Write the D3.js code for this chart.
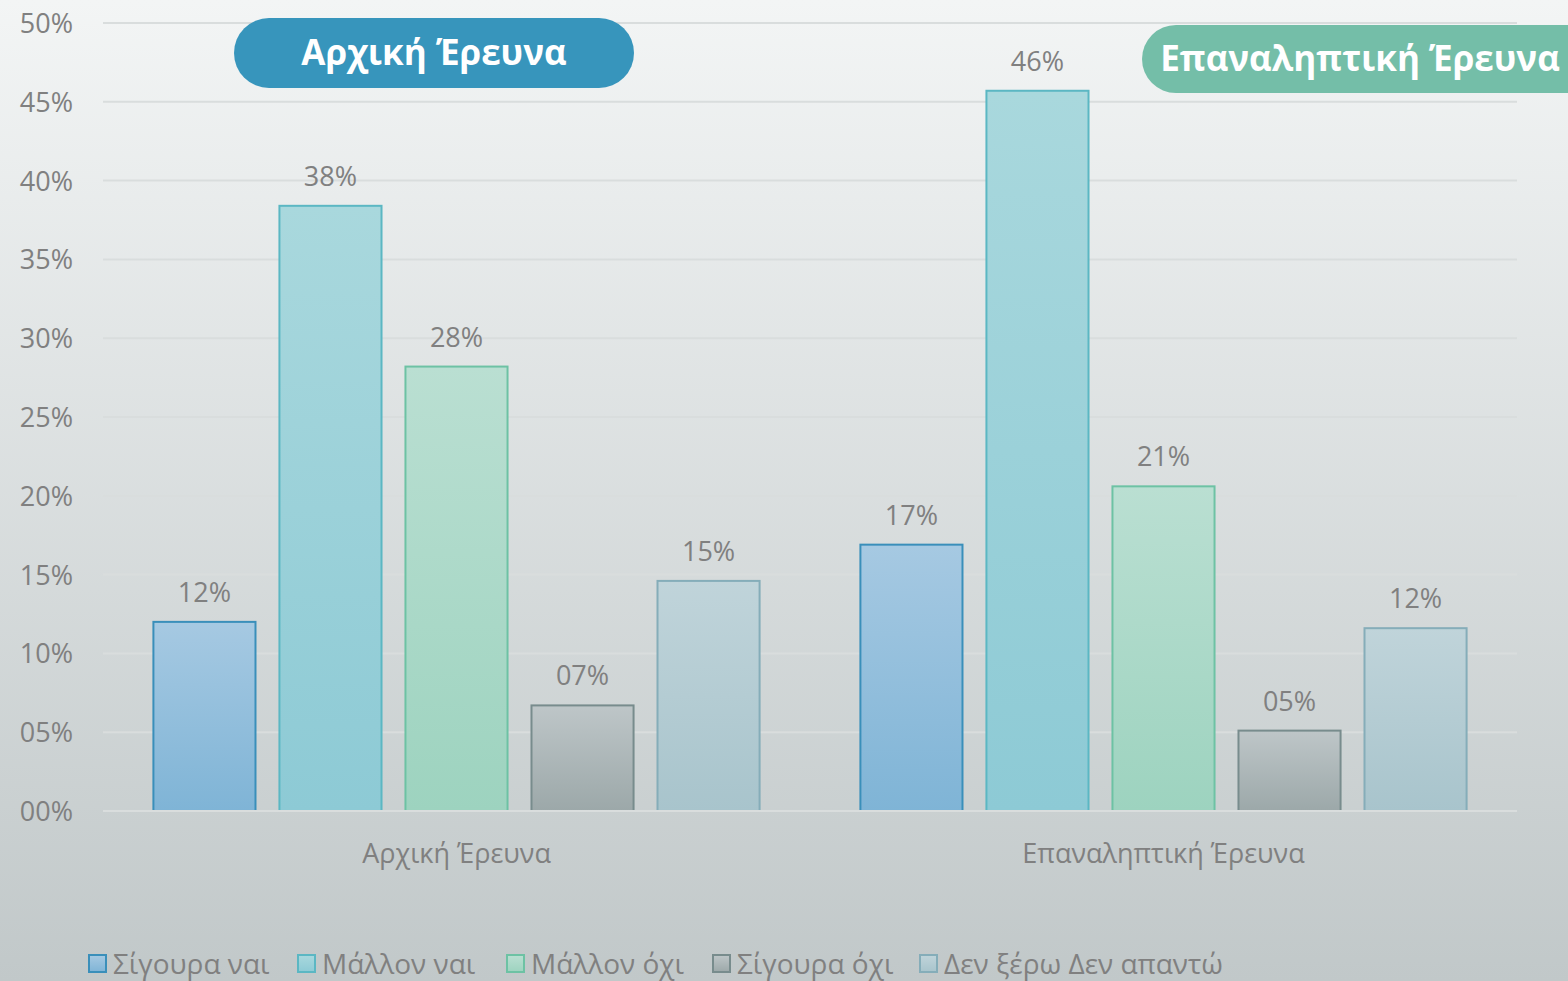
<!DOCTYPE html>
<html><head><meta charset="utf-8">
<script src="https://cdn.jsdelivr.net/npm/d3@7"></script>
<style>html,body{margin:0;padding:0;overflow:hidden}svg{display:block}</style>
</head><body>
<svg id="c" width="1568" height="981"></svg>
<script>
const categories = ["Αρχική Έρευνα", "Επαναληπτική Έρευνα"];
const seriesNames = ["Σίγουρα ναι", "Μάλλον ναι", "Μάλλον όχι", "Σίγουρα όχι", "Δεν ξέρω Δεν απαντώ"];
const valuesArxiki = [0.12, 0.384, 0.282, 0.067, 0.146];
const valuesEpanal = [0.169, 0.457, 0.206, 0.051, 0.116];
const yTicks = [0, 0.05, 0.10, 0.15, 0.20, 0.25, 0.30, 0.35, 0.40, 0.45, 0.50];
const badgeLabels = ["Αρχική Έρευνα", "Επαναληπτική Έρευνα"];

const fillTop = ["#a6c9e2", "#a9d8dd", "#badfd2", "#bec6c8", "#c0d4da"];
const fillBot = ["#7fb4d6", "#8dcad5", "#9dd3bf", "#9ca8a9", "#a8c4cc"];
const strokes = ["#3a8fba", "#5bb7c3", "#6dc2a4", "#788c8d", "#85adb9"];

const svg = d3.select("#c");
const W = 1568, H = 981;
const defs = svg.append("defs");
const bg = defs.append("linearGradient").attr("id","bg").attr("x1",0).attr("y1",0).attr("x2",0).attr("y2",1);
bg.append("stop").attr("offset","0%").attr("stop-color","#f3f5f5");
bg.append("stop").attr("offset","100%").attr("stop-color","#c1c8c9");
svg.append("rect").attr("width",W).attr("height",H).attr("fill","url(#bg)");
fillTop.forEach((c,i)=>{
  const g = defs.append("linearGradient").attr("id","g"+i).attr("x1",0).attr("y1",0).attr("x2",0).attr("y2",1);
  g.append("stop").attr("offset","0%").attr("stop-color",c);
  g.append("stop").attr("offset","100%").attr("stop-color",fillBot[i]);
});

const font = "'Open Sans', 'Noto Sans', sans-serif";
const pLeft = 103, pRight = 1517, pTop = 23, pBottom = 811;
const y = d3.scaleLinear().domain([0, 0.5]).range([pBottom, pTop]);
const x0 = d3.scaleBand().domain(categories).range([pLeft, pRight]).padding(0);
const x1 = d3.scaleBand().domain(seriesNames).range([0, x0.bandwidth()]).paddingInner(0.19).paddingOuter(0.4);

// gridlines
svg.append("g").selectAll("line").data(yTicks).join("line")
  .attr("x1", pLeft).attr("x2", pRight)
  .attr("y1", d=>y(d)).attr("y2", d=>y(d))
  .attr("stroke", "#d9dddd").attr("stroke-width", 2);

// y axis labels
const fmt = d => String(Math.round(d*100)).padStart(2,"0") + "%";
const yAxis = d3.axisLeft(y).tickValues(yTicks).tickFormat(fmt).tickSize(0).tickPadding(0);
const ya = svg.append("g").attr("transform", `translate(73,0)`).call(yAxis);
ya.select(".domain").remove();
ya.selectAll("text").attr("font-family", font).attr("font-size", 27).attr("fill", "#808080").attr("dy","0.35em");

const data = [valuesArxiki, valuesEpanal];
const groups = svg.append("g").selectAll("g").data(categories).join("g")
  .attr("transform", d=>`translate(${x0(d)},0)`);
groups.each(function(cat, gi){
  const g = d3.select(this);
  const vals = data[gi].map((v,i)=>({name: seriesNames[i], v, i}));
  g.selectAll("rect").data(vals).join("rect")
    .attr("x", d=>x1(d.name)).attr("width", x1.bandwidth())
    .attr("y", d=>y(d.v)).attr("height", d=>y(0)-y(d.v))
    .attr("fill", d=>`url(#g${d.i})`).attr("stroke", d=>strokes[d.i]).attr("stroke-width", 2);
  g.selectAll("text").data(vals).join("text")
    .attr("x", d=>x1(d.name)+x1.bandwidth()/2).attr("y", d=>y(d.v)-20)
    .attr("text-anchor","middle").attr("font-family", font).attr("font-size", 27).attr("fill","#808080")
    .text(d=>fmt(d.v));
});

// baseline
svg.append("line").attr("x1",pLeft).attr("x2",pRight).attr("y1",y(0)).attr("y2",y(0)).attr("stroke","#d9dddd").attr("stroke-width",2);

// category axis
const xa = svg.append("g").attr("transform",`translate(0,${pBottom})`).call(d3.axisBottom(x0).tickSize(0).tickPadding(0));
xa.select(".domain").remove();
xa.selectAll("text").attr("font-family", font).attr("font-size", 27).attr("fill","#808080").attr("dy", 52);

// badges
const badges = [
  {label: badgeLabels[0], x: 234, y: 18, w: 400, h: 70, color: "#3795bc"},
  {label: badgeLabels[1], x: 1142, y: 25, w: 460, h: 68, color: "#74bea8"}
];
const bgp = svg.append("g").selectAll("g").data(badges).join("g");
bgp.append("rect").attr("x",d=>d.x).attr("y",d=>d.y).attr("width",d=>d.w).attr("height",d=>d.h)
  .attr("rx",d=>d.h/2).attr("fill",d=>d.color);
bgp.append("text").attr("x",(d,i)=> i===0 ? d.x+d.w/2 : 1360).attr("y",d=>d.y+d.h/2).attr("dy","0.35em")
  .attr("text-anchor","middle").attr("font-family",font).attr("font-weight","bold").attr("font-size",35).attr("fill","#ffffff")
  .text(d=>d.label);

// legend
const legX = [89, 298, 507, 713, 920];
const leg = svg.append("g").selectAll("g").data(seriesNames).join("g")
  .attr("transform",(d,i)=>`translate(${legX[i]},955)`);
leg.append("rect").attr("width",17).attr("height",17).attr("fill",(d,i)=>`url(#g${i})`).attr("stroke",(d,i)=>strokes[i]).attr("stroke-width",2);
leg.append("text").attr("x",24).attr("y",9).attr("dy","0.35em").attr("font-family",font).attr("font-size",28).attr("fill","#808080").text(d=>d);
</script>
</body></html>
